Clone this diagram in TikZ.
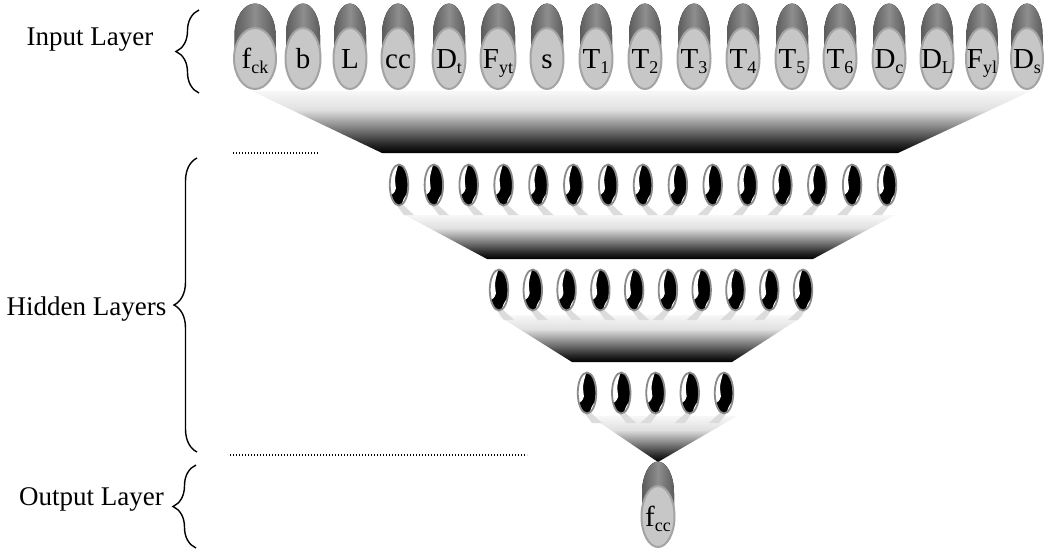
\documentclass[tikz,border=0pt]{standalone}
\usepackage{fontspec}
\setmainfont{Liberation Serif}
\usetikzlibrary{shapes.geometric,decorations.pathreplacing,calc}

\definecolor{capedge}{HTML}{5C5C5C}
\definecolor{capmid}{HTML}{8E8E8E}
\definecolor{bodyfill}{HTML}{C7C7C7}
\definecolor{bodyedge}{HTML}{A3A3A3}
\definecolor{hnedge}{HTML}{8A8A8A}
\definecolor{shadowgray}{HTML}{DCDCDC}

% white at the top of a fan, black at its bottom
\pgfdeclareverticalshading{fan}{100bp}{color(0bp)=(black); color(25bp)=(black);
  color(32bp)=(black!85); color(46bp)=(black!48); color(60bp)=(black!12);
  color(75bp)=(black!3); color(100bp)=(black!3)}

\newcommand\lsub[1]{\raisebox{-5pt}{\fontsize{18}{18}\selectfont #1}}
\newcommand\ctext[1]{\smash{\makebox[0pt]{\raisebox{-9.5pt}{#1}}}}

% an input/output unit: shaded cap behind a light oval body
% #1 name, #2 x, #3 y, #4 half width, #5 label
\newcommand\unitnode[5]{%
  \fill[left color=capedge, right color=capedge, middle color=capmid]
    (#2-#4+1.5,#3) -- (#2-#4+1.5,#3-23.5)
    arc[start angle=180, end angle=360, x radius=#4-1.5, y radius=31.5]
    -- (#2+#4-1.5,#3) -- cycle;
  \node[unitbody, minimum width={2*#4-2}] (#1) at (#2,#3) {\ctext{#5}};
}

% a hidden unit with its small shadow; #1 name, #2 x, #3 y
\newcommand\hiddenunit[3]{%
  \pgfmathsetmacro\sg{ifthenelse(#2<650,1,-1)}
  \begin{scope}[shift={(#2,#3+21)}, xscale=\sg]
    \fill[shadowgray] (-4,-3) -- (2,-3) -- (15,9) -- (5,9) -- cycle;
  \end{scope}
  \node[hn] (#1) at (#2,#3) {};
}

\begin{document}
\begin{tikzpicture}[x=1pt,y=-1pt,
  unitbody/.style={ellipse, draw=bodyedge, fill=bodyfill, line width=2pt,
    inner sep=0pt, minimum height=61pt, font=\fontsize{29}{34}\selectfont},
  hn/.style={ellipse, draw=hnedge, line width=1.8pt, fill=white,
    minimum width=18.5pt, minimum height=41pt, inner sep=0pt,
    path picture={
      \begin{scope}[shift={(path picture bounding box.center)}]
        \fill[black] (-15,-30) rectangle (15,30);
        \fill[white] (1,-25) .. controls (-3,-14) and (-5,-6) .. (-3.5,0)
          .. controls (-2,5) and (-4,9) .. (-14,13) -- (-14,-25) -- cycle;
        \fill[white] (14,8) -- (9,8) .. controls (5.5,11) and (3.5,15) .. (1.5,25)
          -- (14,25) -- cycle;
      \end{scope}}},
  lbl/.style={font=\fontsize{27}{32}\selectfont, inner sep=0pt, anchor=base},
  dotline/.style={line width=1.1pt, dash pattern=on 1pt off 2pt, black},
  bracestyle/.style={decorate, decoration={brace, amplitude=23pt}, line width=1.4pt}
]
\useasboundingbox (0,0) rectangle (1045,550);
\fill[white] (0,0) rectangle (1045,550);

% fans joining one layer to the next
\coordinate (fanAa) at (252,91);  \coordinate (fanAb) at (1031,91);
\coordinate (fanAc) at (898,153); \coordinate (fanAd) at (382,153);
\coordinate (fanBa) at (405,215); \coordinate (fanBb) at (895,215);
\coordinate (fanBc) at (813,259); \coordinate (fanBd) at (487,259);
\coordinate (fanCa) at (497,315); \coordinate (fanCb) at (805,315);
\coordinate (fanCc) at (732,362); \coordinate (fanCd) at (572,362);
\coordinate (fanDa) at (590,416); \coordinate (fanDb) at (737,416);
\coordinate (fanDc) at (658,462);
\shade[shading=fan] (fanAa) -- (fanAb) -- (fanAc) -- (fanAd) -- cycle;
\shade[shading=fan] (fanBa) -- (fanBb) -- (fanBc) -- (fanBd) -- cycle;
\shade[shading=fan] (fanCa) -- (fanCb) -- (fanCc) -- (fanCd) -- cycle;
\shade[shading=fan] (fanDa) -- (fanDb) -- (fanDc) -- cycle;

% dotted separators
\coordinate (sepAa) at (233,153); \coordinate (sepAb) at (318,153);
\coordinate (sepBa) at (230,455); \coordinate (sepBb) at (527,455);
\draw[dotline] (sepAa) -- (sepAb);
\draw[dotline] (sepBa) -- (sepBb);

% layer captions with braces
\node[lbl] (capIn) at (90,45) {Input Layer};
\node[lbl] (capHid) at (86.5,315) {Hidden Layers};
\node[lbl] (capOut) at (91.5,505) {Output Layer};
\coordinate (brInA) at (199,93);  \coordinate (brInB) at (199,10);
\coordinate (brHidA) at (197,452); \coordinate (brHidB) at (197,158);
\coordinate (brOutA) at (196,548); \coordinate (brOutB) at (196,465);
\draw[bracestyle] (brInA) -- (brInB);
\draw[bracestyle] (brHidA) -- (brHidB);
\draw[bracestyle] (brOutA) -- (brOutB);

% hidden layers
\foreach \i in {1,...,15} {
  \pgfmathsetmacro\xx{399+(\i-1)*34.857}
  \hiddenunit{ha\i}{\xx}{185}
}
\foreach \i in {1,...,10} {
  \pgfmathsetmacro\xx{499+(\i-1)*33.78}
  \hiddenunit{hb\i}{\xx}{290}
}
\foreach \i in {1,...,5} {
  \pgfmathsetmacro\xx{587+(\i-1)*34.25}
  \hiddenunit{hc\i}{\xx}{393}
}

% input layer
\unitnode{fck}{255}{58.5}{22}{f\lsub{ck}}
\unitnode{b}{303}{58.5}{18.5}{b}
\unitnode{L}{350}{58.5}{17.5}{L}
\unitnode{cc}{398}{58.5}{17.5}{cc}
\unitnode{Dt}{449}{58.5}{17.5}{D\lsub{t}}
\unitnode{Fyt}{498}{58.5}{18.5}{F\lsub{yt}}
\unitnode{s}{547}{58.5}{17.5}{s}
\unitnode{T1}{596}{58.5}{17.5}{T\lsub{1}}
\unitnode{T2}{645}{58.5}{17.5}{T\lsub{2}}
\unitnode{T3}{694}{58.5}{17.5}{T\lsub{3}}
\unitnode{T4}{743}{58.5}{17.5}{T\lsub{4}}
\unitnode{T5}{792}{58.5}{17.5}{T\lsub{5}}
\unitnode{T6}{840}{58.5}{17.5}{T\lsub{6}}
\unitnode{Dc}{889}{58.5}{17.5}{D\lsub{c}}
\unitnode{DL}{937}{58.5}{17.5}{D\lsub{L}}
\unitnode{Fyl}{982}{58.5}{17}{F\lsub{yl}}
\unitnode{Ds}{1027}{58.5}{17}{D\lsub{s}}

% output layer
\unitnode{fcc}{658}{516.5}{17.5}{f\lsub{cc}}
\end{tikzpicture}
\end{document}
